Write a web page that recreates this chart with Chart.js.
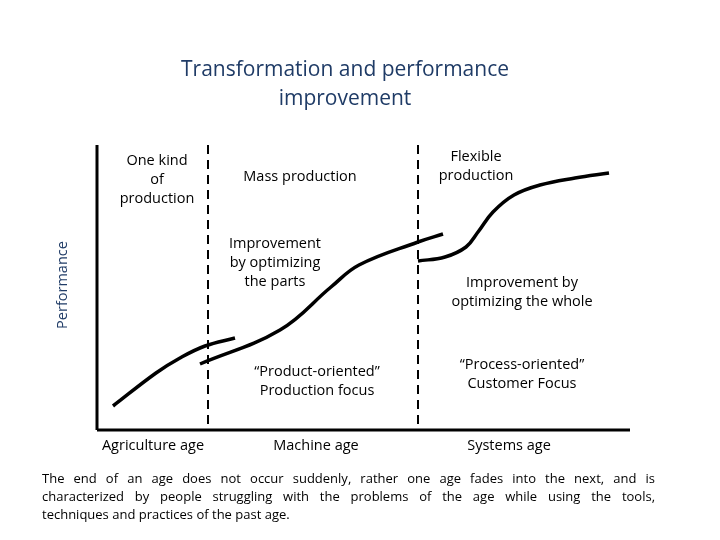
<!DOCTYPE html>
<html lang="en">
<head>
<meta charset="UTF-8">
<title>Transformation and performance improvement</title>
<style>
  body { margin: 0; background: #fff; }
</style>
</head>
<body>
<canvas id="myChart" width="720" height="540"></canvas>
<script src="https://cdn.jsdelivr.net/npm/chart.js"></script>
<script>
"use strict"

// curves, in page units (x right, y down)
const curve_agri = [[113,406],[156,373],[180,358],[205,346],[235,338]]
const curve_machine = [[200,364],[280,330],[331,287],[359,265],[418,242],[443,234]]
const curve_systems = [[418,261],[445,257],[466,247],[478,232],[493,212],[514,195],[540,185],[575,178],[609,173]]
const y_axis = [[97,145],[97,430]]
const x_axis = [[97,430],[630,430]]
const divider1 = [[208,145],[208,430]]
const divider2 = [[418,145],[418,430]]

const title_lines = ["Transformation and performance", "improvement"]
const labels = [
  { text: ["One kind", "of", "production"], x: 157, y: 161 },
  { text: ["Mass production"], x: 300, y: 177 },
  { text: ["Flexible", "production"], x: 476, y: 157 },
  { text: ["Improvement", "by optimizing", "the parts"], x: 275, y: 244 },
  { text: ["Improvement by", "optimizing the whole"], x: 522, y: 283 },
  { text: ["\u201cProduct-oriented\u201d", "Production focus"], x: 317, y: 372 },
  { text: ["\u201cProcess-oriented\u201d", "Customer Focus"], x: 522, y: 365 },
  { text: ["Agriculture age"], x: 153, y: 446 },
  { text: ["Machine age"], x: 316, y: 446 },
  { text: ["Systems age"], x: 509, y: 446 }
]
const note_lines = [
  "The end of  an age does not occur suddenly, rather one age fades into the next, and is",
  "characterized  by people struggling with the problems of the age while using the tools,",
  "techniques and practices of the past age."
]

const FONT = '"Open Sans", "DejaVu Sans", sans-serif'
const toPts = arr => arr.map(p => ({ x: p[0], y: p[1] }))

function line(data, width, dash, tension) {
  return {
    data: toPts(data),
    borderColor: "#000",
    borderWidth: width,
    borderDash: dash || [],
    tension: tension || 0,
    pointRadius: 0,
    fill: false
  }
}

const textPlugin = {
  id: "texts",
  afterDraw(chart) {
    const c = chart.ctx
    const sx = chart.scales.x, sy = chart.scales.y
    c.save()
    c.textBaseline = "middle"
    c.textAlign = "center"
    // title
    c.fillStyle = "#1f3b66"
    c.font = "21px " + FONT
    title_lines.forEach((t, i) => c.fillText(t, sx.getPixelForValue(345), sy.getPixelForValue(70 + i * 29)))
    // labels
    c.fillStyle = "#000"
    c.font = "14.5px " + FONT
    labels.forEach(l => {
      l.text.forEach((t, i) => c.fillText(t, sx.getPixelForValue(l.x), sy.getPixelForValue(l.y + i * 19)))
    })
    // y axis title
    c.save()
    c.translate(sx.getPixelForValue(63), sy.getPixelForValue(285))
    c.rotate(-Math.PI / 2)
    c.fillStyle = "#1f3b66"
    c.font = "14.5px " + FONT
    c.fillText("Performance", 0, 0)
    c.restore()
    // justified note
    c.textAlign = "left"
    c.font = "13px " + FONT
    const left = sx.getPixelForValue(42), right = sx.getPixelForValue(655)
    note_lines.forEach((t, i) => {
      const y = sy.getPixelForValue(479 + i * 18)
      if (i === note_lines.length - 1) { c.fillText(t, left, y); return }
      const words = t.split(/ +/)
      const total = words.reduce((s, w) => s + c.measureText(w).width, 0)
      const gap = (right - left - total) / (words.length - 1)
      let x = left
      words.forEach(w => { c.fillText(w, x, y); x += c.measureText(w).width + gap })
    })
    c.restore()
  }
}

new Chart(document.getElementById("myChart"), {
  type: "line",
  data: {
    datasets: [
      line(y_axis, 3),
      line(x_axis, 3),
      line(divider1, 2, [9, 6]),
      line(divider2, 2, [9, 6]),
      line(curve_agri, 3.5, null, 0.4),
      line(curve_machine, 3.5, null, 0.4),
      line(curve_systems, 3.5, null, 0.4)
    ]
  },
  options: {
    responsive: false,
    animation: false,
    layout: { padding: 0 },
    plugins: { legend: { display: false }, tooltip: { enabled: false } },
    scales: {
      x: { type: "linear", min: 0, max: 720, display: false },
      y: { type: "linear", min: 0, max: 540, reverse: true, display: false }
    }
  },
  plugins: [textPlugin]
})
</script>
</body>
</html>
